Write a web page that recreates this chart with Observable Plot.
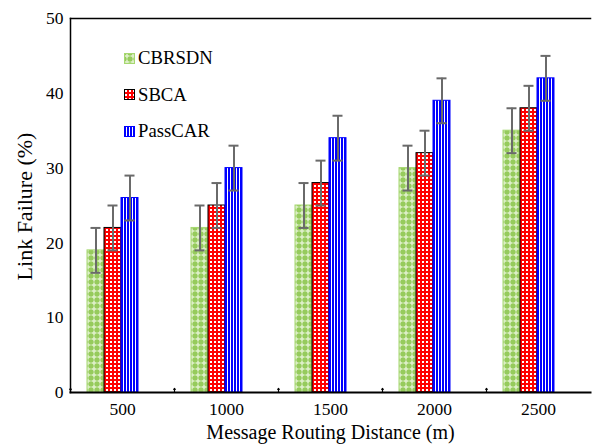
<!DOCTYPE html>
<html><head><meta charset="utf-8">
<script src="https://cdn.jsdelivr.net/npm/d3@7"></script>
<script src="https://cdn.jsdelivr.net/npm/@observablehq/plot@0.6"></script>
<style>
body{margin:0;background:#fff;font-family:"Liberation Serif","Times New Roman",serif;}
#wrap{position:relative;width:597px;height:444px;}
#legend{position:absolute;left:124px;top:40px;font-size:18.7px;color:#000;}
.item{display:flex;align-items:center;height:36.5px;}
.item svg{margin-right:3px;display:block;}
</style></head><body><div id="wrap"></div>
<script>
const distances = ["500", "1000", "1500", "2000", "2500"];
const seriesNames = ["CBRSDN", "SBCA", "PassCAR"];
const cbrsdn = [19, 22, 25, 30, 35];
const sbca = [22, 25, 28, 32, 38];
const passcar = [26, 30, 34, 39, 42];
const errCbrsdn = [3, 3, 3, 3, 3];
const errSbca = [3, 3, 3, 3, 3];
const errPasscar = [3, 3, 3, 3, 3];
const yTicks = [0, 10, 20, 30, 40, 50];
const xTitle = "Message Routing Distance (m)";
const yTitle = "Link Failure (%)";

const seriesValues = [cbrsdn, sbca, passcar];
const seriesErrs = [errCbrsdn, errSbca, errPasscar];
const rows = [];
seriesNames.forEach((s, si) => distances.forEach((d, i) => rows.push({dist: d, series: s, value: seriesValues[si][i], err: seriesErrs[si][i]})));

const styles = {
  CBRSDN: {fill: "url(#patG)", stroke: "#a6d870"},
  SBCA: {fill: "url(#patR)", stroke: "#000000"},
  PassCAR: {fill: "url(#patB)", stroke: "#0000ff"}
};

const bars = seriesNames.map(s => Plot.barY(rows.filter(r => r.series === s), {
  fx: "dist", x: "series", y: "value", fill: styles[s].fill, stroke: styles[s].stroke, strokeWidth: 1
}));

const errColor = "#6a6a6a";
const chart = Plot.plot({
  width: 597, height: 444,
  marginLeft: 69, marginRight: 6, marginTop: 18, marginBottom: 52,
  style: {fontFamily: "'Liberation Serif', 'Times New Roman', serif", fontSize: "17.5px", background: "white", color: "black"},
  fx: {domain: distances, padding: 0, label: null},
  x: {domain: seriesNames, paddingInner: 0, paddingOuter: 1.5, align: 0.33, axis: null},
  y: {domain: [0, 50], label: null},
  marks: [
    ...bars,
    Plot.ruleX(rows, {fx: "dist", x: "series", y1: d => d.value - d.err, y2: d => d.value + d.err, stroke: errColor, strokeWidth: 2}),
    Plot.tickY(rows, {fx: "dist", x: "series", y: d => d.value - d.err, insetLeft: 3.5, insetRight: 3.5, stroke: errColor, strokeWidth: 2}),
    Plot.tickY(rows, {fx: "dist", x: "series", y: d => d.value + d.err, insetLeft: 3.5, insetRight: 3.5, stroke: errColor, strokeWidth: 2}),
    Plot.axisY({ticks: yTicks, tickSize: 0, tickPadding: 7, label: null, fontSize: 17.5}),
    Plot.axisFx({anchor: "bottom", tickSize: 0, tickPadding: 10, label: null, fontSize: 17.5}),
    Plot.vector([0], {frameAnchor: "bottom-left", length: 4, rotate: 0, anchor: "start", stroke: "black", strokeWidth: 1.2}),
    Plot.frame({anchor: "bottom", facet: "super", stroke: "black", strokeWidth: 2}),
    Plot.frame({anchor: "top", facet: "super", stroke: "black", strokeWidth: 1.5}),
    Plot.frame({anchor: "left", facet: "super", stroke: "black", strokeWidth: 1.5}),
    Plot.text([xTitle], {facet: "super", text: d => d, frameAnchor: "bottom", dy: 46, fontSize: 20}),
    Plot.text([yTitle], {facet: "super", text: d => d, frameAnchor: "left", textAnchor: "middle", lineAnchor: "middle", rotate: -90, dx: -46, dy: 1, fontSize: 22})
  ]
});

// patterns
const defs = d3.select(chart).insert("defs", ":first-child");
const pg = defs.append("pattern").attr("id", "patG").attr("patternUnits", "userSpaceOnUse").attr("width", 6).attr("height", 6);
pg.append("rect").attr("width", 6).attr("height", 6).attr("fill", "#96cb5c");
pg.append("rect").attr("x", 2.25).attr("y", 0.5).attr("width", 1.5).attr("height", 5).attr("fill", "#e2f2cf");
pg.append("rect").attr("x", 0.5).attr("y", 2.25).attr("width", 5).attr("height", 1.5).attr("fill", "#e2f2cf");
const pr = defs.append("pattern").attr("id", "patR").attr("patternUnits", "userSpaceOnUse").attr("width", 4).attr("height", 4);
pr.append("rect").attr("width", 4).attr("height", 4).attr("fill", "#ff0000");
pr.append("rect").attr("x", 1).attr("y", 1).attr("width", 2).attr("height", 2).attr("fill", "#ffffff");
const pb = defs.append("pattern").attr("id", "patB").attr("patternUnits", "userSpaceOnUse").attr("width", 3).attr("height", 3);
pb.append("rect").attr("width", 3).attr("height", 3).attr("fill", "#ffffff");
pb.append("rect").attr("width", 2).attr("height", 3).attr("fill", "#0000ff");

const wrap = document.getElementById("wrap");
wrap.appendChild(chart);

const legend = d3.select(wrap).append("div").attr("id", "legend");
seriesNames.forEach(s => {
  const it = legend.append("div").attr("class", "item");
  const sv = it.append("svg").attr("width", 11).attr("height", 11);
  sv.append("rect").attr("x", 0.5).attr("y", 0.5).attr("width", 10).attr("height", 10).attr("fill", styles[s].fill).attr("stroke", styles[s].stroke);
  it.append("span").text(s);
});
</script></body></html>
